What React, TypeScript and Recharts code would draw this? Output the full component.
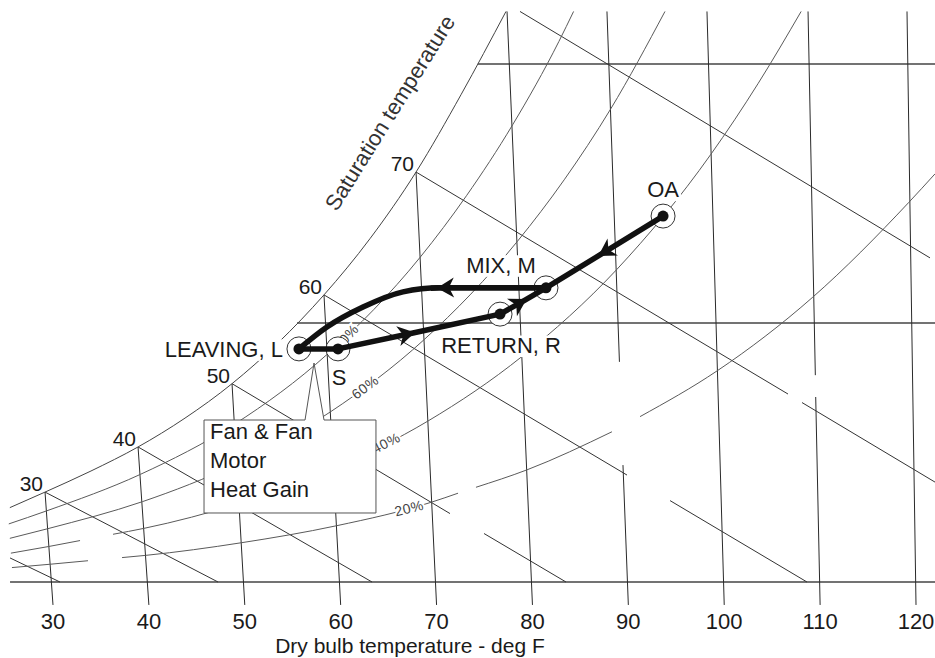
import React from 'react';
import { ComposedChart, Line, Scatter, XAxis, YAxis, ReferenceArea } from 'recharts';

type Pt = [number, number];

// x = dry bulb as read on the bottom scale (deg F), y = moisture content (grains / lb dry air)
const xTicks = [30, 40, 50, 60, 70, 80, 90, 100, 110, 120];

const satTemps = ['30', '40', '50', '60', '70'];
const satPoints: Pt[] = [[29.17, 24.3], [38.87, 36.5], [48.67, 53.6], [58.26, 77.6], [67.86, 110.8]];

const saturation: Pt[] = [
  [25.5, 20.1], [29.17, 24.3], [33.96, 30.0], [38.87, 36.5], [43.77, 44.3], [48.67, 53.6],
  [53.46, 64.6], [58.26, 77.6], [63.06, 92.8], [67.86, 110.8], [72.55, 131.7], [77.24, 154.2],
];

const rh80: Pt[] = [
  [25.39, 15.7], [29.31, 19.2], [39.12, 29.1], [48.9, 42.6], [58.62, 61.6], [68.3, 87.8],
  [73.12, 104.4], [77.94, 123.6], [82.76, 146.1], [84.29, 154.2],
];
const rh60: Pt[] = [
  [25.5, 11.8], [29.44, 14.4], [39.31, 21.7], [49.14, 31.9], [58.94, 46.0], [68.7, 65.5],
  [78.44, 92.1], [83.31, 108.7], [88.17, 127.9], [93.82, 154.2],
];
const rh40: Pt[][] = [
  [[25.61, 7.8], [29.57, 9.6], [32.82, 11.2]],
  [[36.26, 12.9], [39.49, 14.5], [49.38, 21.2], [59.25, 30.6], [69.1, 43.5], [78.93, 61.0],
    [88.77, 84.4], [98.61, 115.6], [103.55, 134.8], [108.02, 154.2]],
];
const rh20: Pt[][] = [
  [[25.72, 3.9], [29.7, 4.8], [33.65, 5.75]],
  [[37.2, 6.6], [39.67, 7.2], [49.62, 10.6], [59.56, 15.2], [69.5, 21.6], [72.24, 24.0]],
  [[74.11, 25.6], [79.42, 30.3], [88.29, 40.6]],
  [[91.22, 44.7], [99.28, 57.1], [109.24, 77.0], [119.25, 102.6], [121.98, 110.3]],
];

// dry bulb lines lean slightly, top end on the saturation curve or the chart top
const dryBulbLines: Pt[][] = [
  [[29.17, 24.3], [30, -6.2]],
  [[38.87, 36.5], [40, -6.2]],
  [[48.67, 53.6], [50, -6.2]],
  [[58.26, 77.6], [60, -6.2]],
  [[67.86, 110.8], [70, -6.2]],
  [[77.35, 154.2], [80, -6.2]],
  [[87.77, 154.2], [89.07, 59.5]], [[89.44, 31.6], [90, -6.2]],
  [[98.2, 154.2], [100, -6.2]],
  [[108.74, 154.2], [109.5, 55.9]], [[109.54, 50.0], [110, -6.2]],
  [[119.06, 154.2], [120, -6.2]],
];

const wetBulbLines: Pt[][] = [
  [[25.52, 6.5], [30.73, 0]],
  [[29.17, 24.3], [47.21, 0]],
  [[38.87, 36.5], [63.27, 0]],
  [[48.67, 53.6], [71.4, 18.5]], [[74.95, 13.1], [83.5, 0]],
  [[58.26, 77.6], [89.86, 28.9]], [[94.35, 22.0], [108.63, 0]],
  [[67.86, 110.8], [106.65, 50.8]], [[108.11, 48.5], [121.98, 27.0]],
  [[78.7, 154.2], [121.46, 87.6]],
];

const moistureLines: Pt[][] = [
  [[25.52, 0], [121.98, 0]],
  [[55.45, 70], [121.98, 70]],
  [[74.3, 140], [121.98, 140]],
];

const rhLabelText = ['80%', '60%', '40%', '20%'];
const rhLabelX = [60.55, 62.54, 64.73, 67.13];
const rhLabelY = [66.2, 52.7, 37.6, 20.0];

const stateNames = ['LEAVING, L', 'S', 'RETURN, R', 'MIX, M', 'OA'];
const stateDryBulb = [55.65, 59.72, 76.62, 81.41, 93.62];
const stateMoisture = [63.0, 63.0, 72.4, 79.5, 98.9];

const pathOaToMix: Pt[] = [[93.62, 98.9], [87.04, 88.4], [81.41, 79.5]];
const pathMixArrow: Pt[] = [[81.41, 79.5], [70.25, 79.5], [69.4, 79.4]];
const pathCoil: Pt[] = [[55.65, 63.0], [58.57, 68.9], [62.33, 74.3], [66.5, 78.4], [70.36, 79.5], [81.41, 79.5]];
const pathFan: Pt[] = [[55.65, 63.0], [59.72, 63.0]];
const pathSupplyToReturn: Pt[] = [[59.72, 63.0], [67.54, 67.3], [76.62, 72.4]];
const pathReturnToMix: Pt[] = [[76.62, 72.4], [79.22, 76.2], [81.41, 79.5]];

const satTitle = 'Saturation temperature';
const satTitleAt: Pt = [65.14, 126.8];

const fanText = ['Fan & Fan', 'Motor', 'Heat Gain'];
const fanBoxX = [45.75, 63.68];
const fanBoxY = [18.65, 43.78];

// ---------- styles ----------
const FONT = '"Liberation Sans", Arial, Helvetica, sans-serif';
const INK = '#1a1a1a';
const DB = '#2a2a2a';
const WB = '#333';
const RH = '#5a5a5a';
const PROC = '#111';

const stateLabelStyle: Record<string, { dx: number; dy: number; anchor: 'start' | 'middle' | 'end'; bg: boolean }> = {
  'LEAVING, L': { dx: -16, dy: 8, anchor: 'end', bg: true },
  S: { dx: 1, dy: 36, anchor: 'middle', bg: false },
  'RETURN, R': { dx: 1, dy: 39, anchor: 'middle', bg: true },
  'MIX, M': { dx: -45, dy: -15, anchor: 'middle', bg: true },
  OA: { dx: 0, dy: -19, anchor: 'middle', bg: true },
};
const rhAngles = [-47, -37, -27, -14];

const toData = (pts: Pt[]) => pts.map(([x, y]) => ({ x, y }));

let measureCtx: CanvasRenderingContext2D | null = null;
const textWidth = (s: string, size: number) => {
  if (!measureCtx && typeof document !== 'undefined') {
    measureCtx = document.createElement('canvas').getContext('2d');
  }
  if (!measureCtx) return s.length * size * 0.58;
  measureCtx.font = `${size}px ${FONT}`;
  return measureCtx.measureText(s).width;
};

const lineEl = (
  key: string,
  pts: Pt[],
  stroke: string,
  width: number,
  curve: 'linear' | 'monotone' = 'linear',
  z = 100,
  extra: Record<string, unknown> = {}
) => (
  <Line
    key={key}
    data={toData(pts)}
    dataKey="y"
    type={curve}
    stroke={stroke}
    strokeWidth={width}
    dot={false}
    activeDot={false}
    isAnimationActive={false}
    legendType="none"
    zIndex={z}
    {...extra}
  />
);

const StateRing = (p: any) => (
  <circle cx={p.cx} cy={p.cy} r={12} fill="#fff" stroke="#333" strokeWidth={1} />
);
const StateDot = (p: any) => <circle cx={p.cx} cy={p.cy} r={5.5} fill={PROC} />;

const StateLabel = (p: any) => {
  const name: string = p.payload.name;
  const st = stateLabelStyle[name];
  const fs = 22;
  const w = textWidth(name, fs);
  const tx = p.cx + st.dx;
  const by = p.cy + st.dy;
  const left = st.anchor === 'end' ? tx - w : st.anchor === 'middle' ? tx - w / 2 : tx;
  return (
    <g>
      {st.bg && <rect x={left - 2} y={by - fs * 0.8} width={w + 4} height={fs * 0.98} fill="#fff" />}
      <text x={tx} y={by} textAnchor={st.anchor} fontSize={fs} fill={INK} fontFamily={FONT}>
        {name}
      </text>
    </g>
  );
};

const SatLabel = (p: any) => (
  <text x={p.cx - 2} y={p.cy - 1} textAnchor="end" fontSize={21} fill={INK} fontFamily={FONT}>
    {p.payload.text}
  </text>
);

const RhLabel = (p: any) => (
  <text
    x={p.cx}
    y={p.cy}
    transform={`rotate(${p.payload.angle}, ${p.cx}, ${p.cy})`}
    textAnchor="middle"
    dominantBaseline="central"
    fontSize={14}
    letterSpacing={0.5}
    fill="#444"
    stroke="#fff"
    strokeWidth={4}
    paintOrder="stroke"
    fontFamily={FONT}
  >
    {p.payload.text}
  </text>
);

const TitleLabel = (p: any) => (
  <text
    x={p.cx}
    y={p.cy}
    transform={`rotate(-58, ${p.cx}, ${p.cy})`}
    textAnchor="middle"
    dominantBaseline="central"
    fontSize={22}
    fill="#333"
    fontFamily={FONT}
  >
    {p.payload.text}
  </text>
);

const FanBox = (p: any) => {
  const { x, y, width, height } = p;
  const d = `M${x},${y + height} L${x},${y} L${x + 101},${y} L${x + 110},${y - 57} L${x + 120},${y} L${x + width},${y} L${x + width},${y + height} Z`;
  return (
    <g>
      <path d={d} fill="#fff" stroke="#555" strokeWidth={1} />
      {fanText.map((t, i) => (
        <text key={t} x={x + 6} y={y + 19 + i * 29} fontSize={22} fill={INK} fontFamily={FONT}>
          {t}
        </text>
      ))}
    </g>
  );
};

const AxisTitle = (p: any) => {
  const vb = p && p.viewBox && p.viewBox.width ? p.viewBox : { x: 0, y: 605, width: 935, height: 53 };
  return (
    <text x={vb.x + vb.width * 0.4385} y={vb.y + vb.height - 5} textAnchor="middle" fontSize={21} fill={INK} fontFamily={FONT}>
      Dry bulb temperature - deg F
    </text>
  );
};

export default function App() {
  const states = stateNames.map((name, i) => ({ x: stateDryBulb[i], y: stateMoisture[i], name }));
  const satLabels = satTemps.map((text, i) => ({ x: satPoints[i][0], y: satPoints[i][1], text }));
  const rhLabels = rhLabelText.map((text, i) => ({ x: rhLabelX[i], y: rhLabelY[i], text, angle: rhAngles[i] }));
  const titleData = [{ x: satTitleAt[0], y: satTitleAt[1], text: satTitle }];
  const arrow = { markerMid: 'url(#flowArrow)' };

  return (
    <div style={{ position: 'absolute', left: 0, top: 0, width: 935, height: 658, background: '#fff', fontFamily: FONT }}>
      <svg width={0} height={0} style={{ position: 'absolute' }}>
        <defs>
          <marker
            id="flowArrow"
            markerUnits="userSpaceOnUse"
            markerWidth={22}
            markerHeight={24}
            viewBox="-18 -12 22 24"
            refX={0}
            refY={0}
            orient="auto"
          >
            <path d="M2,0 L-15,-10 L-10,0 L-15,10 Z" fill={PROC} />
          </marker>
        </defs>
      </svg>
      <ComposedChart width={935} height={658} margin={{ top: 0, right: 0, bottom: 0, left: 0 }}>
        <XAxis
          type="number"
          dataKey="x"
          domain={[24.473, 121.98]}
          allowDataOverflow
          ticks={xTicks}
          interval={0}
          tickLine={false}
          axisLine={false}
          height={53}
          tick={{ fontSize: 22, fill: INK, fontFamily: FONT }}
          label={AxisTitle}
        />
        <YAxis type="number" dataKey="y" domain={[-6.216, 157.297]} allowDataOverflow hide />

        {moistureLines.map((s, i) => lineEl(`m${i}`, s, '#444', i === 0 ? 1.6 : 1.3))}
        {dryBulbLines.map((s, i) => lineEl(`db${i}`, s, DB, 1))}
        {wetBulbLines.map((s, i) => lineEl(`wb${i}`, s, WB, 1))}
        {lineEl('sat', saturation, '#444', 1, 'monotone')}
        {lineEl('rh80', rh80, RH, 1, 'monotone')}
        {lineEl('rh60', rh60, RH, 1, 'monotone')}
        {rh40.map((s, i) => lineEl(`rh40-${i}`, s, RH, 1, 'monotone'))}
        {rh20.map((s, i) => lineEl(`rh20-${i}`, s, RH, 1, 'monotone'))}

        <Scatter data={rhLabels} dataKey="y" shape={RhLabel} isAnimationActive={false} zIndex={120} />

        <ReferenceArea
          x1={fanBoxX[0]}
          x2={fanBoxX[1]}
          y1={fanBoxY[0]}
          y2={fanBoxY[1]}
          shape={FanBox}
          ifOverflow="visible"
          zIndex={150}
        />

        <Scatter data={states} dataKey="y" shape={StateRing} isAnimationActive={false} zIndex={200} />

        {lineEl('p-oa', pathOaToMix, PROC, 5.5, 'linear', 300, arrow)}
        {lineEl('p-coil', pathCoil, PROC, 5.5, 'monotone', 300)}
        {lineEl('p-mixarrow', pathMixArrow, PROC, 5.5, 'linear', 300, arrow)}
        {lineEl('p-fan', pathFan, PROC, 5.5, 'linear', 300)}
        {lineEl('p-sr', pathSupplyToReturn, PROC, 5.5, 'linear', 300, arrow)}
        {lineEl('p-rm', pathReturnToMix, PROC, 5.5, 'linear', 300, arrow)}

        <Scatter data={states} dataKey="y" shape={StateDot} isAnimationActive={false} zIndex={400} />
        <Scatter data={states} dataKey="y" shape={StateLabel} isAnimationActive={false} zIndex={500} />
        <Scatter data={satLabels} dataKey="y" shape={SatLabel} isAnimationActive={false} zIndex={500} />
        <Scatter data={titleData} dataKey="y" shape={TitleLabel} isAnimationActive={false} zIndex={500} />
      </ComposedChart>
    </div>
  );
}
